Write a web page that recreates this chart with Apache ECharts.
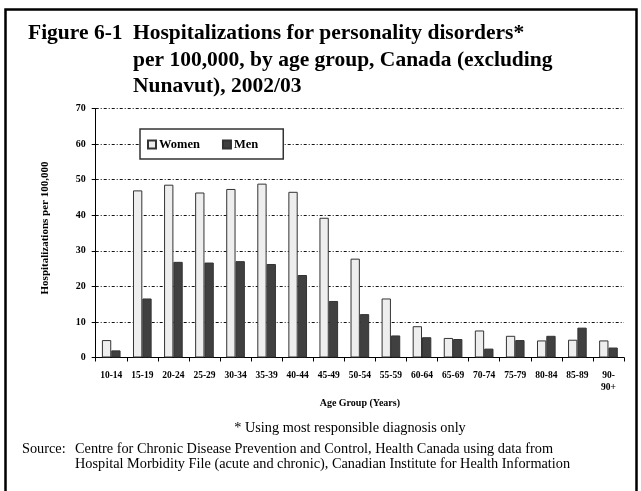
<!DOCTYPE html>
<html>
<head>
<meta charset="utf-8">
<script src="https://cdn.jsdelivr.net/npm/echarts@6/dist/echarts.min.js"></script>
<style>
  html, body { margin: 0; padding: 0; background: #fff; }
  #chart { width: 641px; height: 491px; }
</style>
</head>
<body>
<div id="chart"></div>
<script>
// Age groups on the category axis
const ageGroups = ['10-14', '15-19', '20-24', '25-29', '30-34', '35-39', '40-44', '45-49',
  '50-54', '55-59', '60-64', '65-69', '70-74', '75-79', '80-84', '85-89', '90-\n90+'];

// Hospitalizations per 100,000
const women = [4.9, 47.0, 48.6, 46.4, 47.4, 48.9, 46.6, 39.3, 27.8, 16.6, 8.8, 5.5, 7.6, 6.1, 4.8, 5.0, 4.8];
const men   = [2.0, 16.6, 26.9, 26.7, 27.1, 26.3, 23.2, 15.9, 12.2, 6.2, 5.7, 5.2, 2.5, 4.9, 6.1, 8.4, 2.8];

// Value-axis range and step
const yMin = 0, yMax = 70, yStep = 10;

const serif = "'Liberation Serif', 'Times New Roman', serif";
const chart = echarts.init(document.getElementById('chart'), null, { renderer: 'canvas' });

const gridDash = [3, 2, 1, 2];
const titleFont = 'bold 21.5px ' + serif;
const noteFont = '14.3px ' + serif;

function line(text, x, y, font, align) {
  return { type: 'text', x: x, y: y,
    style: { text: text, font: font, fill: '#000', textAlign: align || 'left', textVerticalAlign: 'middle' } };
}

chart.setOption({
  animation: false,
  backgroundColor: '#fff',
  textStyle: { fontFamily: serif, color: '#000' },
  grid: { left: 95.7, right: 17, top: 108.6, bottom: 133.5, containLabel: false },
  legend: {
    left: 140, top: 129,
    orient: 'horizontal',
    padding: [9, 25, 8, 7],
    itemGap: 22,
    itemWidth: 8, itemHeight: 8,
    borderColor: '#333', borderWidth: 1.5,
    backgroundColor: '#fff',
    icon: 'rect',
    textStyle: { fontFamily: serif, fontWeight: 'bold', fontSize: 12.5, color: '#000', padding: [0, 0, 0, -2] },
    data: ['Women', 'Men']
  },
  xAxis: {
    type: 'category',
    data: ageGroups,
    name: 'Age Group (Years)',
    nameLocation: 'middle',
    nameGap: 41,
    nameTextStyle: { fontFamily: serif, fontWeight: 'bold', fontSize: 10, color: '#000' },
    axisLine: { lineStyle: { color: '#000', width: 1 } },
    axisTick: { show: true, length: 4, lineStyle: { color: '#000' } },
    axisLabel: {
      fontFamily: serif, fontWeight: 'bold', fontSize: 9.5, color: '#000',
      margin: 12, lineHeight: 12, interval: 0
    },
    splitLine: { show: false }
  },
  yAxis: {
    type: 'value',
    min: yMin, max: yMax, interval: yStep,
    axisLine: { show: true, lineStyle: { color: '#000', width: 1 } },
    axisTick: { show: true, length: 4, lineStyle: { color: '#000' } },
    axisLabel: { fontFamily: serif, fontWeight: 'bold', fontSize: 10, color: '#000', margin: 10 },
    splitLine: { show: true, lineStyle: { color: '#111', width: 1, type: gridDash } }
  },
  series: [
    {
      name: 'Women', type: 'bar', data: women,
      barGap: '0%', barCategoryGap: '40%',
      itemStyle: { color: '#eeeeee', borderColor: '#333', borderWidth: 1 }
    },
    {
      name: 'Men', type: 'bar', data: men,
      barGap: '0%', barCategoryGap: '40%',
      itemStyle: { color: '#404040', borderColor: '#333', borderWidth: 1 }
    }
  ],
  graphic: [
    { type: 'rect', shape: { x: 5.5, y: 9.5, width: 631, height: 500 },
      style: { fill: 'none', stroke: '#000', lineWidth: 2.5 }, silent: true },
    line('Figure 6-1', 28, 33, titleFont),
    line('Hospitalizations for personality disorders*', 133, 33, titleFont),
    line('per 100,000, by age group, Canada (excluding', 133, 60, titleFont),
    line('Nunavut), 2002/03', 133, 86.5, titleFont),
    { type: 'text', x: 45, y: 228, rotation: Math.PI / 2,
      style: { text: 'Hospitalizations per 100,000', font: 'bold 11px ' + serif, fill: '#000',
        textAlign: 'center', textVerticalAlign: 'middle' } },
    line('* Using most responsible diagnosis only', 350, 428, noteFont, 'center'),
    line('Source:', 22, 449, noteFont),
    line('Centre for Chronic Disease Prevention and Control, Health Canada using data from', 75, 449, noteFont),
    line('Hospital Morbidity File (acute and chronic), Canadian Institute for Health Information', 75, 464, noteFont)
  ]
});
</script>
</body>
</html>
